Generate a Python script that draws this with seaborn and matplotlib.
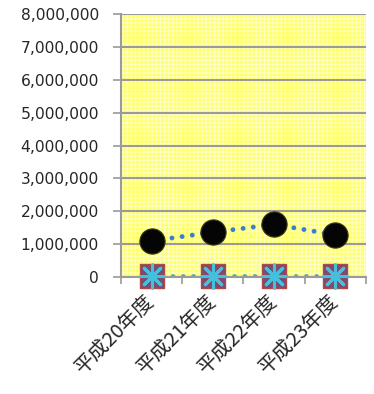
import matplotlib
matplotlib.use("Agg")
import matplotlib.pyplot as plt
import seaborn as sns
import pandas as pd
from matplotlib.patches import Rectangle
from matplotlib.ticker import FuncFormatter

categories = ["平成20年度", "平成21年度", "平成22年度", "平成23年度"]
series_a = [1100000, 1360000, 1600000, 1280000]
series_b = [25000, 25000, 25000, 25000]
y_ticks = [0, 1000000, 2000000, 3000000, 4000000, 5000000, 6000000, 7000000, 8000000]

sns.set_style("white")
plt.rcParams['font.family'] = ['DejaVu Sans']
plt.rcParams['hatch.linewidth'] = 0.8

df = pd.DataFrame({"cat": categories, "a": series_a, "b": series_b})
df["x"] = range(len(categories))

fig = plt.figure(figsize=(3.74, 3.94), dpi=100)
ax = fig.add_axes([121/374, 117/394, 245/374, 263/394])
ax.set_facecolor('#ffff6e')
ax.add_patch(Rectangle((0, 0), 1, 1, transform=ax.transAxes, facecolor='none',
                       edgecolor='#ffffc0', hatch='++++', linewidth=0, zorder=0))

for v in y_ticks:
    ax.axhline(v, color='#9a9a9a', linewidth=1.5, zorder=1)

dot = (0, (0.01, 2.1))
sns.lineplot(data=df, x="x", y="a", ax=ax, color='#3b7dd0', linewidth=3.5,
             linestyle=dot, zorder=2)
sns.lineplot(data=df, x="x", y="b", ax=ax, color='#3fb0cc', linewidth=3.5,
             linestyle=dot, zorder=2)
for line in ax.get_lines():
    line.set_dash_capstyle('round')

sns.scatterplot(data=df, x="x", y="a", ax=ax, s=330, color='#050505',
                edgecolor='#3a3a10', linewidth=0.8, zorder=4)
sns.scatterplot(data=df, x="x", y="b", ax=ax, s=300, marker='s', color='#7e4a6e',
                edgecolor='#b04848', linewidth=1, zorder=4, clip_on=False)
sns.scatterplot(data=df, x="x", y="b", ax=ax, s=280, marker=(8, 2, 0), color='#45c0dc',
                linewidth=2.2, zorder=5, clip_on=False)

ax.set_xlim(-0.5, 3.5)
ax.set_ylim(0, 8000000)
ax.set_yticks(y_ticks)
ax.yaxis.set_major_formatter(FuncFormatter(lambda v, p: f"{int(v):,}"))
ax.set_xticks([-0.5, 0.5, 1.5, 2.5, 3.5])
ax.set_xticklabels([])
label_offset = 0.12
ax.set_xticks([i + label_offset for i in df["x"]], minor=True)
ax.set_xticklabels(categories, minor=True, rotation=45, ha='right',
                   fontsize=14.5, family=['Noto Sans CJK JP', 'DejaVu Sans'])
ax.tick_params(axis='x', which='minor', length=0, pad=10)
ax.tick_params(axis='x', which='major', length=5, width=1.2, color='#9a9a9a', direction='out')
ax.tick_params(axis='y', length=6, width=1.2, color='#9a9a9a', direction='out', labelsize=11.2, pad=10)
ax.tick_params(axis='both', left=True, bottom=True)

for s in ['top', 'right']:
    ax.spines[s].set_visible(False)
for s in ['left', 'bottom']:
    ax.spines[s].set_color('#9a9a9a')
    ax.spines[s].set_linewidth(1.5)
ax.set_xlabel("")
ax.set_ylabel("")
for sp in ax.spines.values():
    sp.set_zorder(3)

fig.savefig("out.png", dpi=100)
